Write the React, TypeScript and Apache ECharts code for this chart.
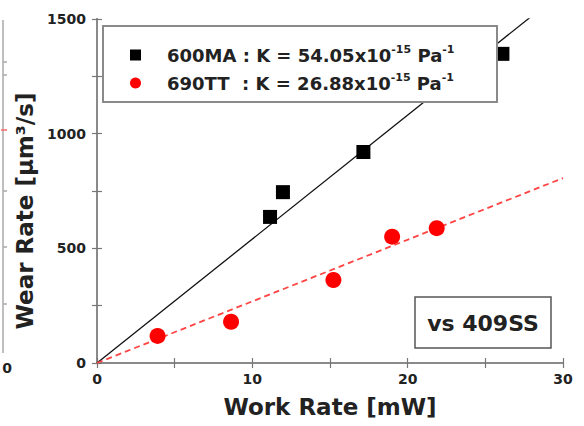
import React, { useEffect, useRef } from 'react';
import * as echarts from 'echarts';

// ---- data ----
const materials = ['600MA', '690TT'];
const kLabels = ['54.05', '26.88'];
const kValues = [54.05, 26.88];
const workRateMA = [11.14, 11.97, 17.15, 26.1];
const wearRateMA = [637, 745, 920, 1348];
const workRateTT = [3.9, 8.63, 15.22, 19.0, 21.87];
const wearRateTT = [118, 180, 362, 551, 588];
const xRange = [0, 30];
const yRange = [0, 1500];
const counterpart = 'vs 409SS';

const FONT = '"DejaVu Sans", Verdana, sans-serif';
const TXT = '#222';
const FRAME = '#8a8a8a';

export default function App() {
  const ref = useRef<HTMLDivElement>(null);
  useEffect(() => {
    if (!ref.current) return;
    const chart = echarts.init(ref.current, undefined, { renderer: 'svg' });
    const fit = (k: number) => [
      [xRange[0], k * xRange[0]],
      [xRange[1], k * xRange[1]],
    ];
    const axisCommon = {
      axisLine: { show: true, lineStyle: { color: FRAME, width: 2 } },
      axisTick: { show: true, inside: true, length: 5, lineStyle: { color: '#777', width: 1.2 } },
      minorTick: { show: true, splitNumber: 2, length: 5, lineStyle: { color: '#777', width: 1.2 } },
      splitLine: { show: false },
    };
    const labelStyle = {
      color: TXT, fontSize: 14, fontWeight: 'bold' as const, fontFamily: FONT,
      formatter: (v: number) => String(v),
    };
    chart.setOption({
      animation: false,
      backgroundColor: '#fff',
      grid: { left: 97, right: 21, top: 19, bottom: 63, containLabel: false },
      xAxis: [
        {
          type: 'value', min: xRange[0], max: xRange[1], interval: 10, position: 'bottom',
          name: 'Work Rate [mW]', nameLocation: 'middle', nameGap: 32,
          nameTextStyle: { color: TXT, fontSize: 23, fontWeight: 'bold', fontFamily: FONT },
          axisLabel: { ...labelStyle, margin: 9 },
          ...axisCommon,
        },
        {
          type: 'value', min: xRange[0], max: xRange[1], interval: 10, position: 'top',
          axisLabel: { show: false }, ...axisCommon,
        },
      ],
      yAxis: [
        {
          type: 'value', min: yRange[0], max: yRange[1], interval: 500, position: 'left',
          name: 'Wear Rate [μm³/s]', nameLocation: 'middle', nameGap: 49,
          nameTextStyle: { color: TXT, fontSize: 23, fontWeight: 'bold', fontFamily: FONT, padding: [0, 40, 0, 0] },
          axisLabel: { ...labelStyle, margin: 11 },
          ...axisCommon,
        },
        {
          type: 'value', min: yRange[0], max: yRange[1], interval: 500, position: 'right',
          axisLabel: { show: false }, ...axisCommon,
        },
      ],
      legend: {
        data: [
          { name: materials[0], icon: 'rect' },
          { name: materials[1], icon: 'circle' },
        ],
        orient: 'vertical',
        left: 125,
        top: 39,
        itemWidth: 11,
        itemHeight: 11,
        itemGap: 8,
        z: 20,
        selectedMode: false,
        formatter: (name: string) => {
          const i = materials.indexOf(name);
          const pad = i === 1 ? '\u00a0' : '';
          return `{g|\u00a0}{b|${name}${pad} : K = ${kLabels[i]}x10}{s|-15}{b| Pa}{s|-1}`;
        },
        textStyle: {
          rich: {
            g: { width: 21, fontSize: 10 },
            b: { fontSize: 18, fontWeight: 'bold', color: TXT, fontFamily: FONT, lineHeight: 22 },
            s: { fontSize: 11, fontWeight: 'bold', color: TXT, fontFamily: FONT, verticalAlign: 'top', lineHeight: 12 },
          },
        },
      },
      graphic: [
        {
          type: 'rect', z: 10,
          shape: { x: 103, y: 26, width: 394, height: 76 },
          style: { fill: '#fff', stroke: FRAME, lineWidth: 2 },
        },
        {
          type: 'rect', z: 10,
          shape: { x: 415, y: 297, width: 136, height: 51 },
          style: { fill: '#fff', stroke: '#555', lineWidth: 1.5 },
        },
        {
          type: 'text', z: 11, x: 483, y: 323,
          style: { text: counterpart, fill: TXT, fontSize: 22, fontWeight: 'bold', fontFamily: FONT, align: 'center', verticalAlign: 'middle' },
        },
        // remnant of neighbouring panel
        { type: 'line', shape: { x1: 3, y1: 20, x2: 3, y2: 353 }, style: { stroke: '#aaa', lineWidth: 1.5 } },
        ...[62, 75, 191, 247, 304].map((y) => ({
          type: 'line', shape: { x1: 3, y1: y, x2: 7, y2: y }, style: { stroke: '#aaa', lineWidth: 1.5 },
        })),
        { type: 'line', shape: { x1: 1, y1: 130, x2: 7, y2: 130 }, style: { stroke: '#f66', lineWidth: 1.5 } },
        {
          type: 'text', x: 12, y: 368,
          style: { text: '0', fill: TXT, fontSize: 14, fontWeight: 'bold', fontFamily: FONT, align: 'right', verticalAlign: 'middle' },
        },
      ],
      series: [
        {
          name: 'fit ' + materials[0], type: 'line', data: fit(kValues[0]), symbol: 'none', clip: true,
          lineStyle: { color: '#111', width: 1.3 }, z: 2, silent: true,
        },
        {
          name: 'fit ' + materials[1], type: 'line', data: fit(kValues[1]), symbol: 'none', clip: true,
          lineStyle: { color: '#f44', width: 1.8, type: [6, 4] }, z: 2, silent: true,
        },
        {
          name: materials[0], type: 'scatter', symbol: 'rect', symbolSize: 14,
          data: workRateMA.map((x, i) => [x, wearRateMA[i]]),
          itemStyle: { color: '#000', opacity: 1 }, z: 3,
        },
        {
          name: materials[1], type: 'scatter', symbol: 'circle', symbolSize: 16,
          data: workRateTT.map((x, i) => [x, wearRateTT[i]]),
          itemStyle: { color: '#ff0000', opacity: 1 }, z: 3,
        },
      ],
    });
    return () => chart.dispose();
  }, []);
  return <div ref={ref} style={{ width: 584, height: 426, position: 'absolute', left: 0, top: 0 }} />;
}
